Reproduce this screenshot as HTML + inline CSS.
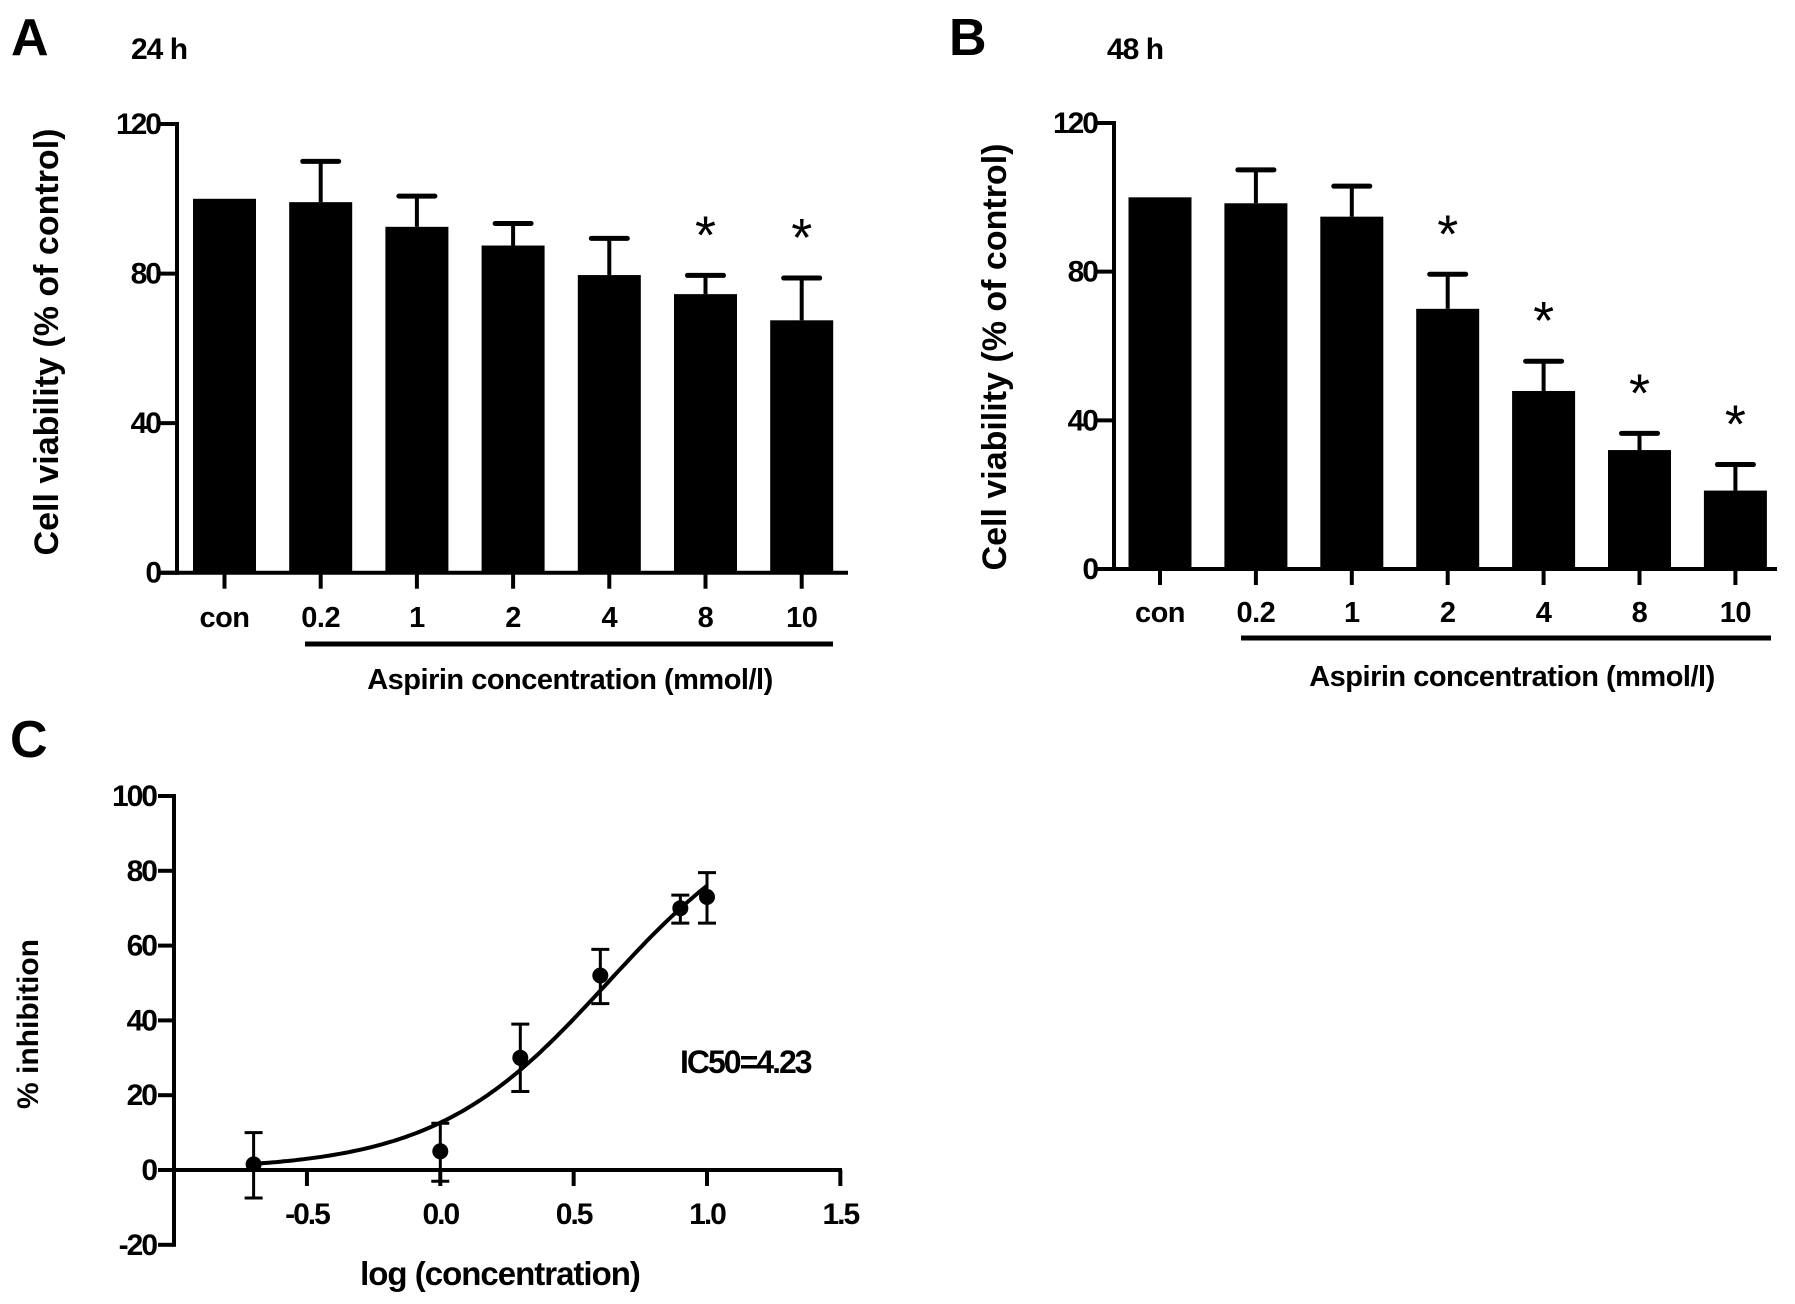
<!DOCTYPE html>
<html><head><meta charset="utf-8"><style>
html,body{margin:0;padding:0;background:#fff}
svg{display:block;font-family:"Liberation Sans",Arial,sans-serif;font-weight:bold}
</style></head><body>
<svg id="fig" width="1795" height="1304" viewBox="0 0 1795 1304">
<g id="pA"></g>
<g id="pB"></g>
<g id="pC"></g>
</svg>
<script>
const categories = ["con","0.2","1","2","4","8","10"];
const meanA = [100, 99.1, 92.5, 87.5, 79.6, 74.5, 67.5];
const errTopA = [null, 110, 100.7, 93.4, 89.4, 79.5, 78.8];
const sigA = [false,false,false,false,false,true,true];
const meanB = [100, 98.4, 94.8, 70, 47.9, 32, 21.1];
const errTopB = [null, 107.4, 103, 79.3, 55.9, 36.5, 28.1];
const sigB = [false,false,false,true,true,true,true];
const barTicks = [0,40,80,120];

const logConc = [-0.7, 0, 0.3, 0.6, 0.9, 1.0];
const inhib = [1.5, 5, 30, 52, 70, 73];
const errHi = [10, 12.5, 39, 59, 73.5, 79.5];
const errLo = [-7.5, -3, 21, 44.5, 66, 66];
const xTicksC = ["-0.5","0.0","0.5","1.0","1.5"];
const yTicksC = [-20,0,20,40,60,80,100];
const logIC50 = Math.log10(4.23);
const hill = 1.34;

const NS="http://www.w3.org/2000/svg";
function mk(parent,tag,attrs,text){const e=document.createElementNS(NS,tag);for(const k in attrs)e.setAttribute(k,attrs[k]);if(text!==undefined)e.textContent=text;parent.appendChild(e);return e;}

function barPanel(g,o){
  const y=v=>o.y0-(v/120)*(o.y0-o.y120);
  const x=i=>o.x0tick+i*o.step;
  let e;
  e=mk(g,"text",{x:o.letterX,y:o.letterY,"font-size":52},o.letter);
  
  
  e=mk(g,"text",{x:o.timeX,y:o.letterY+4,"font-size":30,"letter-spacing":"-1"},o.time);
  
  
  const means=o.means, tops=o.tops, sig=o.sig;
  means.forEach((m,i)=>{
    if(tops[i]!=null){
      e=mk(g,"line",{x1:x(i),x2:x(i),y1:y(m),y2:y(tops[i]),stroke:"#000","stroke-width":4});
      
      
      e=mk(g,"line",{x1:x(i)-18,x2:x(i)+18,y1:y(tops[i]),y2:y(tops[i]),stroke:"#000","stroke-width":5,"stroke-linecap":"round"});
      
      
    }
    e=mk(g,"rect",{x:x(i)-31.5,y:y(m),width:63,height:o.y0-y(m),fill:"#000"});
    
    
    if(sig[i]){
      e=mk(g,"text",{x:x(i),y:y(tops[i])-22,"font-size":54,"text-anchor":"middle","font-weight":"normal"},"*");
      
      
    }
    e=mk(g,"line",{x1:x(i),x2:x(i),y1:o.y0,y2:o.y0+16,stroke:"#000","stroke-width":4});
    
    
    e=mk(g,"text",{x:x(i),y:o.labY,"font-size":29,"text-anchor":"middle","letter-spacing":"-0.5"},categories[i]);
    
    
  });
  e=mk(g,"line",{x1:o.ax,x2:o.ax,y1:o.y120-2,y2:o.y0+2,stroke:"#000","stroke-width":4});
  
  
  e=mk(g,"line",{x1:o.ax-17,x2:o.xEnd,y1:o.y0,y2:o.y0,stroke:"#000","stroke-width":4});
  
  
  barTicks.forEach(t=>{
    e=mk(g,"line",{x1:o.ax-17,x2:o.ax,y1:y(t),y2:y(t),stroke:"#000","stroke-width":4});
    
    
    e=mk(g,"text",{x:o.ax-17,y:y(t)+10,"font-size":30,"text-anchor":"end","letter-spacing":"-2"},String(t));
    
    
  });
  e=mk(g,"line",{x1:o.ulX1,x2:o.ulX2,y1:o.ulY,y2:o.ulY,stroke:"#000","stroke-width":5});
  
  
  e=mk(g,"text",{x:o.titleX,y:o.titleY,"font-size":29,"text-anchor":"middle","letter-spacing":"-0.5"},"Aspirin concentration (mmol/l)");
  
  
  e=mk(g,"text",{x:0,y:0,"font-size":34,"text-anchor":"middle",transform:`translate(${o.ytX},${o.ytY}) rotate(-90)`},"Cell viability (% of control)");
  
  
}

barPanel(document.getElementById('pA'),{letter:"A",letterX:11,letterY:55,time:"24 h",timeX:131,
  ax:177,y0:572.7,y120:124,x0tick:224.5,step:96.2,xEnd:848,labY:627,ulX1:305,ulX2:833,ulY:644,
  titleX:570,titleY:689,ytX:58,ytY:342,means:meanA,tops:errTopA,sig:sigA});
barPanel(document.getElementById('pB'),{letter:"B",letterX:949,letterY:55,time:"48 h",timeX:1107,
  ax:1114,y0:569,y120:123,x0tick:1160,step:95.9,xEnd:1777,labY:622,ulX1:1241,ulX2:1771,ulY:638,
  titleX:1512,titleY:686,ytX:1006,ytY:357,means:meanB,tops:errTopB,sig:sigB});

(function(){
  const g=document.getElementById('pC');
  const X=v=>440.3+v*266.7;
  const Y=v=>1170-v*3.74;
  let e;
  e=mk(g,"text",{x:10,y:757,"font-size":52},"C");
  
  
  e=mk(g,"line",{x1:174,x2:174,y1:Y(100)-2,y2:Y(-20)+2,stroke:"#000","stroke-width":4});
  
  
  e=mk(g,"line",{x1:158,x2:842,y1:Y(0),y2:Y(0),stroke:"#000","stroke-width":4});
  
  
  yTicksC.forEach(t=>{
    e=mk(g,"line",{x1:158,x2:174,y1:Y(t),y2:Y(t),stroke:"#000","stroke-width":4});
    
    
    e=mk(g,"text",{x:156,y:Y(t)+10,"font-size":30,"text-anchor":"end","letter-spacing":"-2"},String(t));
    
    
  });
  xTicksC.forEach(t=>{
    const v=parseFloat(t);
    e=mk(g,"line",{x1:X(v),x2:X(v),y1:Y(0),y2:Y(0)+16,stroke:"#000","stroke-width":4});
    
    
    e=mk(g,"text",{x:X(v),y:1224,"font-size":30,"text-anchor":"middle","letter-spacing":"-2"},t);
    
    
  });
  let d="";
  for(let i=0;i<=120;i++){const v=logConc[0]+(logConc[logConc.length-1]-logConc[0])*i/120;
    const yv=100/(1+Math.pow(10,(logIC50-v)*hill));d+=(i?"L":"M")+X(v).toFixed(1)+","+Y(yv).toFixed(1);}
  e=mk(g,"path",{d:d,fill:"none",stroke:"#000","stroke-width":4});
  
  
  logConc.forEach((lc,i)=>{
    e=mk(g,"line",{x1:X(lc),x2:X(lc),y1:Y(errLo[i]),y2:Y(errHi[i]),stroke:"#000","stroke-width":3});
    
    
    [errLo[i],errHi[i]].forEach(v=>{
      e=mk(g,"line",{x1:X(lc)-9,x2:X(lc)+9,y1:Y(v),y2:Y(v),stroke:"#000","stroke-width":3});
      
      
    });
    e=mk(g,"circle",{cx:X(lc),cy:Y(inhib[i]),r:8,fill:"#000"});
    
    
  });
  e=mk(g,"text",{x:680,y:1073,"font-size":32,"letter-spacing":"-2"},"IC50=4.23");
  
  
  e=mk(g,"text",{x:500,y:1285,"font-size":33,"text-anchor":"middle","letter-spacing":"-1"},"log (concentration)");
  
  
  e=mk(g,"text",{x:0,y:0,"font-size":30,"text-anchor":"middle",transform:"translate(38,1024) rotate(-90)"},"% inhibition");
  
  
})();
</script>
</body></html>
